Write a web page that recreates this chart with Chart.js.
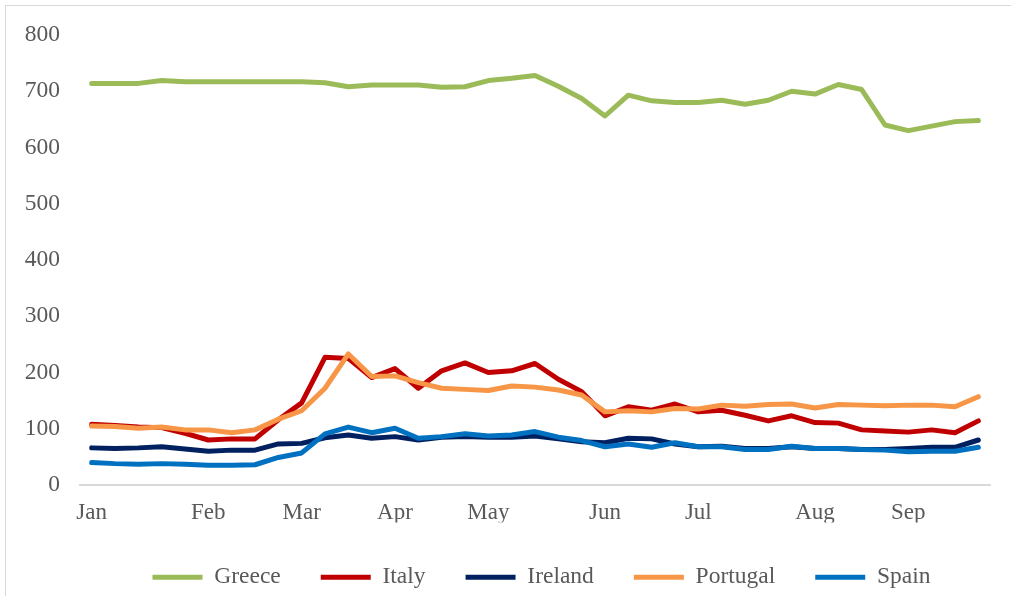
<!DOCTYPE html>
<html>
<head>
<meta charset="utf-8">
<script src="https://cdn.jsdelivr.net/npm/chart.js@4/dist/chart.umd.min.js"></script>
<style>
  html, body { margin: 0; padding: 0; background: #ffffff; overflow: hidden; }
  #frame { position: absolute; left: 5px; top: 5px; width: 1200px; height: 800px; border: 1.5px solid #d9d9d9; box-sizing: border-box; }
  #wrap { position: absolute; left: 0; top: 0; width: 1011px; height: 596px; }
</style>
</head>
<body>
<div id="frame"></div>
<div id="wrap"><canvas id="c" width="1011" height="596"></canvas></div>
<script>
const categories = ['Jan','','','','','Feb','','','','Mar','','','','Apr','','','','May','','','','','Jun','','','','Jul','','','','','Aug','','','','Sep','','',''];
const yMin = 0, yMax = 800, yStep = 100;
const seriesNames = ['Greece', 'Italy', 'Ireland', 'Portugal', 'Spain'];
const greece   = [714,714,714,719,717,717,717,717,717,717,715,708,711,711,711,707,708,719,723,728,709,687,656,693,683,680,680,684,677,684,700,695,712,703,640,630,638,646,648];
const italy    = [108,106,103,102,92,80,82,82,116,146,227,225,191,207,172,203,217,200,203,216,188,166,123,139,133,144,130,133,124,114,123,111,110,98,96,94,98,93,114];
const ireland  = [66,65,66,68,64,60,62,62,73,74,84,89,83,86,80,85,86,85,85,87,82,77,75,83,82,73,68,69,65,65,68,65,65,63,63,65,67,67,80];
const portugal = [105,104,101,103,98,98,93,98,117,132,172,233,193,194,182,172,170,168,176,174,169,160,130,132,130,136,135,142,140,143,144,137,143,142,141,142,142,139,157];
const spain    = [40,38,37,38,37,35,35,36,49,57,91,103,93,101,83,86,91,87,89,95,85,79,68,73,67,75,68,68,63,63,69,65,65,63,62,59,60,60,67];
const colors = ['#9BBB59', '#C00000', '#002060', '#F79646', '#0070C0'];
const seriesData = [greece, italy, ireland, portugal, spain];

const FONT = '"Liberation Serif", "Times New Roman", serif';

const datasets = seriesNames.map((name, i) => ({
  label: name,
  data: seriesData[i],
  borderColor: colors[i],
  backgroundColor: colors[i],
  borderWidth: 5,
  borderCapStyle: 'round',
  borderJoinStyle: 'round',
  pointRadius: 0,
  pointHoverRadius: 0,
  tension: 0,
  fill: false,
  order: seriesNames.length - i
}));

const shiftLegend = {
  id: 'shiftLegend',
  afterLayout(chart) {
    const lg = chart.legend;
    if (lg) {
      lg.left = 72; lg.right = 1011; lg.width = 1011 - 72;
      lg.top += 3; lg.bottom += 3;
    }
  }
};

new Chart(document.getElementById('c'), {
  type: 'line',
  data: { labels: categories, datasets: datasets },
  plugins: [shiftLegend],
  options: {
    responsive: false,
    animation: false,
    events: [],
    layout: { padding: { left: 0, right: 0, top: 35, bottom: 0 } },
    scales: {
      x: {
        type: 'category',
        offset: true,
        grid: { display: false, drawTicks: false },
        border: { display: true, color: '#d9d9d9', width: 2 },
        ticks: {
          autoSkip: false, maxRotation: 0, minRotation: 0,
          padding: 14,
          color: '#595959',
          font: { family: FONT, size: 23 }
        },
        afterFit: (s) => { s.height = 37.5; }
      },
      y: {
        min: yMin, max: yMax,
        grid: { display: false, drawTicks: false },
        border: { display: false },
        ticks: {
          stepSize: yStep,
          padding: 20,
          color: '#595959',
          font: { family: FONT, size: 23.5 }
        },
        afterFit: (s) => { s.width = 80; }
      },
      y2: {
        position: 'right',
        display: true,
        grid: { display: false, drawTicks: false },
        border: { display: false },
        ticks: { display: false },
        afterFit: (s) => { s.width = 21; }
      }
    },
    plugins: {
      tooltip: { enabled: false },
      legend: {
        position: 'bottom',
        labels: {
          usePointStyle: true,
          pointStyle: 'line',
          pointStyleWidth: 50,
          padding: 40,
          color: '#595959',
          font: { family: FONT, size: 23.5 },
          sort: (a, b) => a.datasetIndex - b.datasetIndex
        }
      }
    }
  }
});
</script>
</body>
</html>
